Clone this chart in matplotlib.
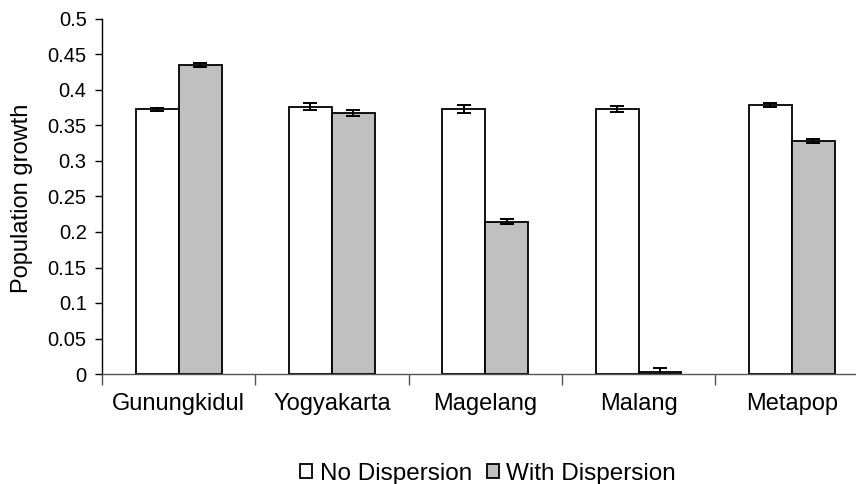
import matplotlib.pyplot as plt
import numpy as np

# data
sitios = ["Gunungkidul", "Yogyakarta", "Magelang", "Malang", "Metapop"]
sin_disp = [0.373, 0.3765, 0.373, 0.3737, 0.379]
sin_err = [0.002, 0.0045, 0.006, 0.004, 0.003]
con_disp = [0.435, 0.368, 0.2145, 0.003, 0.3286]
con_err = [0.003, 0.0045, 0.0038, 0.005, 0.003]
yticks = [0, 0.05, 0.1, 0.15, 0.2, 0.25, 0.3, 0.35, 0.4, 0.45, 0.5]

plt.rcParams['font.family'] = ['Liberation Sans', 'DejaVu Sans']

fig = plt.figure(figsize=(8.56, 4.84), dpi=100)
ax = fig.add_axes([102 / 856, 110 / 484, 766.5 / 856, 355 / 484])

x = np.arange(len(sitios))
ancho = 0.28
err_kw = dict(ecolor="k", elinewidth=1.4, capsize=5, capthick=1.4)

ax.bar(x - ancho / 2, sin_disp, ancho, yerr=sin_err, color="white",
       edgecolor="k", linewidth=1.3, label="No Dispersion", error_kw=err_kw)
ax.bar(x + ancho / 2, con_disp, ancho, yerr=con_err, color="#C0C0C0",
       edgecolor="k", linewidth=1.3, label="With Dispersion", error_kw=err_kw)

ax.set_xlim(-0.5, 4.5)
ax.set_ylim(0, 0.5)
ax.set_yticks(yticks)
ax.set_yticklabels(["%g" % v for v in yticks], fontsize=14.5)
ax.tick_params(axis="y", direction="out", length=5, width=1, pad=6)

# bounds ticks below the axis, names in the middle
ax.set_xticks(np.arange(-0.5, 5, 1))
ax.set_xticklabels([])
ax.tick_params(axis="x", which="major", direction="out", length=8, width=1, color="#555555")
ax.set_xticks(x, minor=True)
ax.set_xticklabels(sitios, minor=True, fontsize=17)
ax.tick_params(axis="x", which="minor", length=0, pad=14)

for lado in ["top", "right"]:
    ax.spines[lado].set_visible(False)
ax.spines["left"].set_linewidth(1)
ax.spines["bottom"].set_linewidth(1)
ax.spines["bottom"].set_color("#555555")

fig.text(22 / 856, 1 - 198 / 484, "Population growth", rotation=90,
         ha="center", va="center", fontsize=17)

fig.legend(loc="center", bbox_to_anchor=(488 / 856, 1 - 474 / 484), ncol=2,
           frameon=False, fontsize=17.5, handlelength=0.5, handleheight=0.5,
           handletextpad=0.3, columnspacing=0.6, borderpad=0)

fig.savefig("out.png", dpi=100)
